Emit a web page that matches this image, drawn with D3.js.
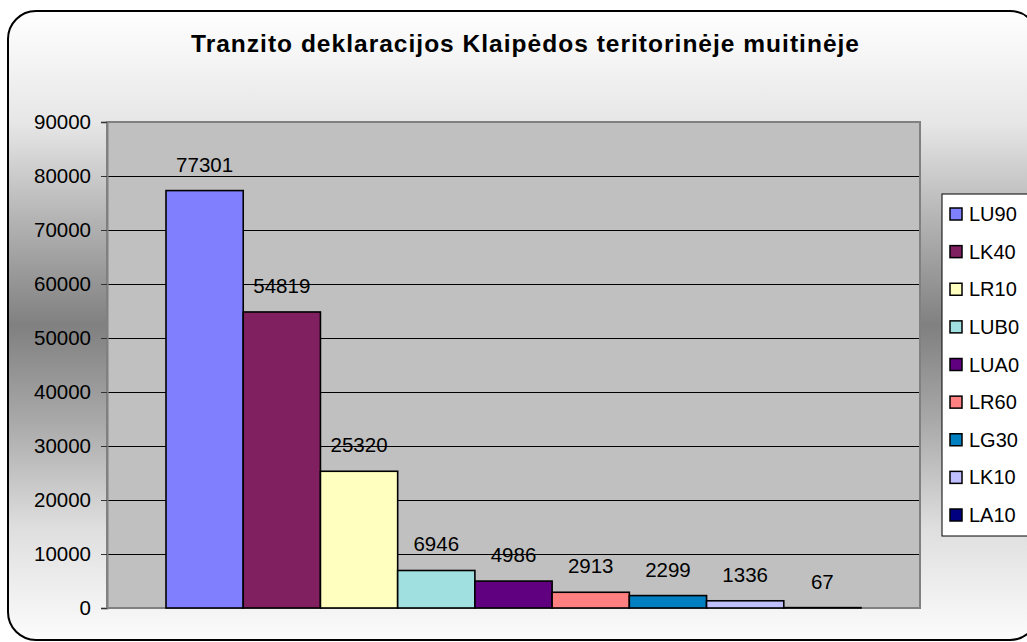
<!DOCTYPE html>
<html><head><meta charset="utf-8">
<script src="https://cdn.jsdelivr.net/npm/d3@7"></script>
<style>html,body{margin:0;padding:0;background:#fff;overflow:hidden}</style>
</head><body>
<script>
const title = "Tranzito deklaracijos Klaipėdos teritorinėje muitinėje";
const series = ["LU90","LK40","LR10","LUB0","LUA0","LR60","LG30","LK10","LA10"];
const values = [77301,54819,25320,6946,4986,2913,2299,1336,67];
const colors = ["#8080FF","#802060","#FFFFC0","#A0E0E0","#600080","#FF8080","#0080C0","#C0C0FF","#000080"];
const yTicks = [0,10000,20000,30000,40000,50000,60000,70000,80000,90000];

const W = 1027, H = 642;
const svg = d3.select("body").append("svg").attr("width", W).attr("height", H)
  .style("font-family", "'Liberation Sans', Arial, sans-serif");

const defs = svg.append("defs");
const grad = defs.append("linearGradient").attr("id","bg").attr("x1",0).attr("y1",0).attr("x2",0).attr("y2",1);
[[0,"#ffffff"],[0.18,"#e6e6e6"],[0.33,"#b4b4b4"],[0.5,"#808080"],[0.66,"#ababab"],[0.82,"#dedede"],[1,"#fcfcfc"]]
  .forEach(([o,c]) => grad.append("stop").attr("offset",o).attr("stop-color",c));

// outer chart area
svg.append("rect").attr("x",8).attr("y",11).attr("width",1030).attr("height",629)
  .attr("rx",28).attr("ry",28).attr("fill","url(#bg)").attr("stroke","#000").attr("stroke-width",2);

// title
svg.append("text").attr("x",525).attr("y",52).attr("text-anchor","middle")
  .attr("font-weight","bold").attr("font-size",24.5).attr("fill","#000")
  .attr("textLength",668).attr("lengthAdjust","spacing").text(title);

const plot = {left:107, top:122, right:920, bottom:608};
const y = d3.scaleLinear().domain([0,90000]).range([plot.bottom, plot.top]);
const inset = 59;
const x = d3.scaleBand().domain(series).range([plot.left+inset, plot.right-inset]).padding(0);

svg.append("rect").attr("x",plot.left).attr("y",plot.top)
  .attr("width",plot.right-plot.left).attr("height",plot.bottom-plot.top)
  .attr("fill","#c0c0c0");

// gridlines
svg.append("g").selectAll("line").data(yTicks.filter(d=>d>0 && d<90000)).join("line")
  .attr("x1",plot.left).attr("x2",plot.right).attr("y1",d=>y(d)).attr("y2",d=>y(d))
  .attr("stroke","#000").attr("stroke-width",1).attr("shape-rendering","crispEdges");

svg.append("rect").attr("x",plot.left).attr("y",plot.top)
  .attr("width",plot.right-plot.left).attr("height",plot.bottom-plot.top)
  .attr("fill","none").attr("stroke","#808080").attr("stroke-width",2);

// axis
const axis = d3.axisLeft(y).tickValues(yTicks).tickSize(6).tickPadding(10).tickFormat(d3.format("d"));
const ag = svg.append("g").attr("transform",`translate(${plot.left},0)`).call(axis);
ag.select(".domain").attr("stroke","#808080").attr("stroke-width",2);
ag.selectAll(".tick line").attr("stroke","#333");
ag.selectAll(".tick text").attr("font-size",20.5).attr("fill","#000")
  .attr("font-family","'Liberation Sans', Arial, sans-serif");

// bars
svg.append("g").selectAll("rect").data(series).join("rect")
  .attr("x",d=>x(d)).attr("width",x.bandwidth())
  .attr("y",(d,i)=>y(values[i])).attr("height",(d,i)=>y(0)-y(values[i]))
  .attr("fill",(d,i)=>colors[i]).attr("stroke","#000").attr("stroke-width",1.6);

// labels
svg.append("g").selectAll("text").data(series).join("text")
  .attr("x",d=>x(d)+x.bandwidth()/2).attr("y",(d,i)=>y(values[i])-19)
  .attr("text-anchor","middle").attr("font-size",20.5).attr("fill","#000")
  .text((d,i)=>values[i]);

// legend
const lg = svg.append("g");
lg.append("rect").attr("x",942).attr("y",194).attr("width",100).attr("height",342)
  .attr("fill","#fff").attr("stroke","#000").attr("stroke-width",1);
const ly = d3.scalePoint().domain(series).range([214, 515]);
const items = lg.selectAll("g").data(series).join("g")
  .attr("transform",d=>`translate(0,${ly(d)})`);
items.append("rect").attr("x",950).attr("y",-6).attr("width",12).attr("height",12)
  .attr("fill",(d,i)=>colors[i]).attr("stroke","#000").attr("stroke-width",1.5);
items.append("text").attr("x",969).attr("y",7).attr("font-size",20).attr("fill","#000").text(d=>d);
</script>
</body></html>
